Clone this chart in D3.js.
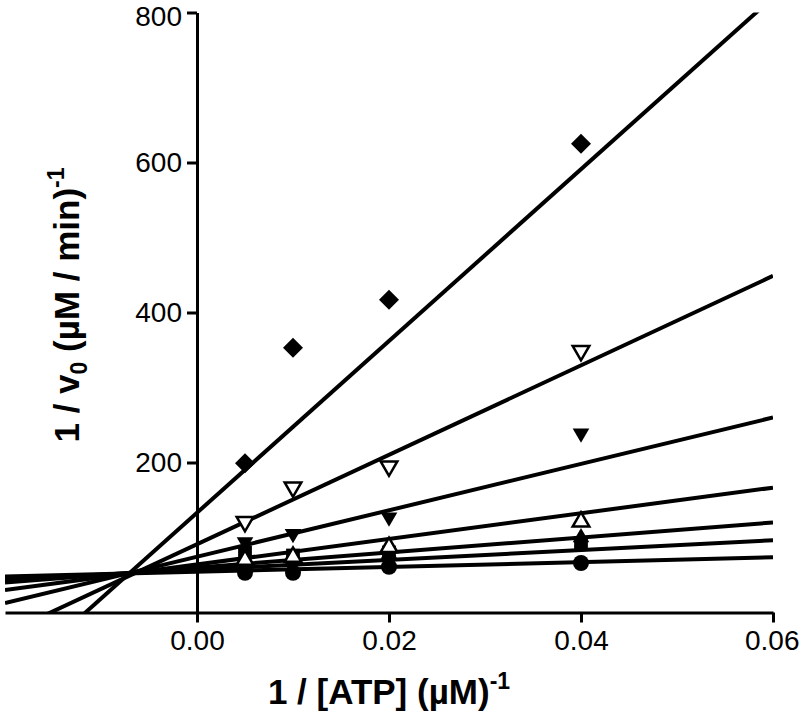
<!DOCTYPE html>
<html>
<head>
<meta charset="utf-8">
<script src="https://cdn.jsdelivr.net/npm/d3@7"></script>
<style>
  html, body { margin: 0; padding: 0; background: #fff; }
  text { font-family: "Liberation Sans", Arial, sans-serif; fill: #000; }
</style>
</head>
<body>
<div id="chart"></div>
<script>
// 1/[ATP] values where data was measured
const xValues = [0.005, 0.01, 0.02, 0.04];

// 1/v0 readings per series (one per marker style)
const diamondY = [199, 353, 417, 625];
const openDownY = [121, 167, 195, 349];
const filledDownY = [94, 105, 127, 239];
const openUpY = [70, 74, 87, 121];
const squareY = [80, 76, 80, 92];
const filledUpY = [72, 70, 78, 100];
const circleY = [53, 53, 61, 66];

// fitted lines: 1/v0 = intercept + slope * (1/[ATP])
const fitIntercepts = [133, 91, 74.4, 64, 60, 57, 54.4];
const fitSlopes = [11450, 5963, 3093, 1708, 1000, 656, 319];

const xTicks = [0.00, 0.02, 0.04, 0.06];
const yTicks = [200, 400, 600, 800];

const series = [
    { y: diamondY, shape: "diamond", filled: true },
    { y: openDownY, shape: "down", filled: false },
    { y: filledDownY, shape: "down", filled: true },
    { y: openUpY, shape: "up", filled: false },
    { y: squareY, shape: "square", filled: true },
    { y: filledUpY, shape: "up", filled: true },
    { y: circleY, shape: "circle", filled: true },
];

const width = 800;
const height = 715;

const svg = d3.select("#chart").append("svg").attr("width", width).attr("height", height);

const x = d3.scaleLinear().domain([-0.02, 0.06]).range([5, 773]);
const y = d3.scaleLinear().domain([0, 800]).range([612.5, 12.5]);

svg.append("defs").append("clipPath").attr("id", "plot-clip")
    .append("rect")
    .attr("x", x(-0.02)).attr("y", y(800))
    .attr("width", x(0.06) - x(-0.02)).attr("height", y(0) - y(800));

// Fit lines
const lineGen = d3.line().x((d) => x(d[0])).y((d) => y(d[1]));
svg.append("g").attr("clip-path", "url(#plot-clip)")
    .selectAll("path")
    .data(fitIntercepts.map((b, i) => [[-0.02, b + fitSlopes[i] * -0.02], [0.06, b + fitSlopes[i] * 0.06]]))
    .join("path")
    .attr("d", lineGen)
    .attr("fill", "none")
    .attr("stroke", "#000")
    .attr("stroke-width", 4);

// Axes
const xAxis = svg.append("g")
    .attr("transform", `translate(0,${y(0)})`)
    .call(d3.axisBottom(x).tickValues(xTicks).tickFormat(d3.format(".2f")).tickSize(10).tickSizeOuter(0).tickPadding(8));
const yAxis = svg.append("g")
    .attr("transform", `translate(${x(0)},0)`)
    .call(d3.axisLeft(y).tickValues(yTicks).tickSize(10).tickSizeOuter(0).tickPadding(5));

[xAxis, yAxis].forEach((a) => {
    a.select(".domain").attr("stroke", "#000").attr("stroke-width", 3);
    a.selectAll(".tick line").attr("stroke", "#000").attr("stroke-width", 3);
    a.selectAll(".tick text").style("font-size", "28px").attr("fill", "#000");
});
// keep the last x label inside the picture
xAxis.selectAll(".tick text").filter((d) => d === 0.06).attr("text-anchor", "end").attr("dx", "26px");
yAxis.selectAll(".tick text").filter((d) => d === 800).attr("dy", "0.45em");

// Markers
function symbolPath(shape) {
    if (shape === "diamond") return d3.symbol(d3.symbolSquare, 200)();
    if (shape === "up" || shape === "down") return d3.symbol(d3.symbolTriangle, 120)();
    if (shape === "square") return d3.symbol(d3.symbolSquare, 190)();
    return d3.symbol(d3.symbolCircle, 200)();
}
function symbolRotate(shape) {
    if (shape === "diamond") return 45;
    if (shape === "down") return 180;
    return 0;
}

const markerLayer = svg.append("g");
series.slice().reverse().forEach((s) => {
    markerLayer.append("g")
        .selectAll("path")
        .data(xValues.map((xv, i) => [xv, s.y[i]]))
        .join("path")
        .attr("d", symbolPath(s.shape))
        .attr("transform", (d) => `translate(${x(d[0])},${y(d[1])}) rotate(${symbolRotate(s.shape)})`)
        .attr("fill", s.filled ? "#000" : "#fff")
        .attr("stroke", "#000")
        .attr("stroke-width", s.filled ? 0 : 2.5);
});

// Axis titles
const xTitle = svg.append("text")
    .attr("x", x(0.02))
    .attr("y", 704)
    .attr("text-anchor", "middle")
    .style("font-size", "35px")
    .style("font-weight", "bold");
xTitle.append("tspan").text("1 / [ATP] (µM)");
xTitle.append("tspan").attr("dy", -15).style("font-size", "23px").text("-1");

const yTitle = svg.append("text")
    .attr("transform", "translate(79,305) rotate(-90)")
    .attr("text-anchor", "middle")
    .style("font-size", "35px")
    .style("font-weight", "bold");
yTitle.append("tspan").text("1 / v");
yTitle.append("tspan").attr("dy", 8).style("font-size", "23px").text("0");
yTitle.append("tspan").attr("dy", -8).text(" (µM / min)");
yTitle.append("tspan").attr("dy", -15).style("font-size", "23px").text("-1");
</script>
</body>
</html>
